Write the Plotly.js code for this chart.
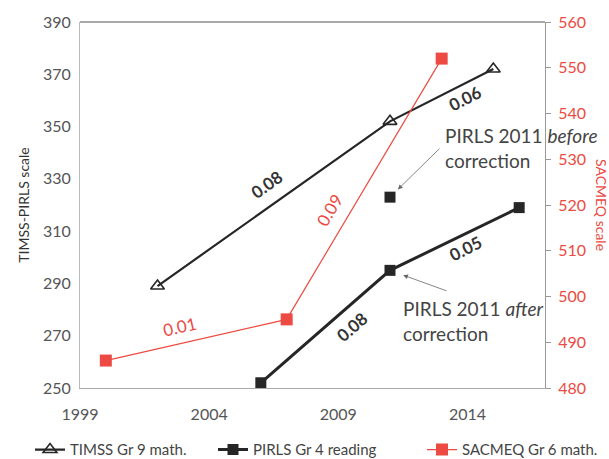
<!DOCTYPE html>
<html>
<head>
<meta charset="utf-8">
<script src="https://cdn.plot.ly/plotly-3.0.1.min.js"></script>
<style>html,body{margin:0;padding:0;background:#fff}#chart{width:609px;height:459px}</style>
</head>
<body>
<div id="chart"></div>
<script>
// ---- data ----
const timssYears = [2002, 2011, 2015];
const timssScores = [289, 352, 372];
const timssSlopes = ['0.08', '0.06'];

const pirlsYears = [2006, 2011, 2016];
const pirlsScores = [252, 295, 319];
const pirlsSlopes = ['0.08', '0.05'];

const pirlsBeforeYear = [2011];
const pirlsBeforeScore = [323];

const sacmeqYears = [2000, 2007, 2013];
const sacmeqScores = [486, 495, 552];
const sacmeqSlopes = ['0.01', '0.09'];

const xTicks = [1999, 2004, 2009, 2014];

const seriesNames = ['TIMSS Gr 9 math.', 'PIRLS Gr 4 reading', 'SACMEQ Gr 6 math.'];

// ---- styles ----
const FONT = 'Lato, "Open Sans", sans-serif';
const BLACK = '#262626';
const RED = '#ec4a42';

const traces = [
  {x: timssYears, y: timssScores, name: seriesNames[0], mode: 'lines+markers', legend: 'legend',
   line: {color: BLACK, width: 2.2},
   marker: {symbol: 'triangle-up-open', size: 12, color: BLACK, line: {width: 1.6, color: BLACK}}},
  {x: pirlsYears, y: pirlsScores, name: seriesNames[1], mode: 'lines+markers', legend: 'legend2',
   line: {color: BLACK, width: 3},
   marker: {symbol: 'square', size: 11, color: BLACK}},
  {x: pirlsBeforeYear, y: pirlsBeforeScore, mode: 'markers', showlegend: false,
   marker: {symbol: 'square', size: 11, color: BLACK}},
  {x: sacmeqYears, y: sacmeqScores, name: seriesNames[2], mode: 'lines+markers', yaxis: 'y2', legend: 'legend3',
   line: {color: RED, width: 1.2},
   marker: {symbol: 'square', size: 12, color: RED}}
];

function mid(a, i) { return (a[i] + a[i + 1]) / 2; }

// slope label style offsets (pixels) and angles
const timssStyle = [{dx: -7, dy: 19, ang: -35}, {dx: 23, dy: -3, ang: -27}];
const pirlsStyle = [{dx: 27, dy: 0, ang: -41}, {dx: 11, dy: -10, ang: -27}];
const sacmeqStyle = [{dx: -16, dy: 13, ang: -13}, {dx: -34, dy: -21, ang: -59}];

const annotations = [];
function slopeLabels(xs, ys, labels, style, color, bold, yref) {
  labels.forEach((t, i) => {
    annotations.push({
      x: mid(xs, i), y: mid(ys, i), xref: 'x', yref: yref,
      text: bold ? '<b>' + t + '</b>' : t, showarrow: false,
      xshift: style[i].dx, yshift: style[i].dy, textangle: style[i].ang,
      font: {family: FONT, size: 17, color: color}
    });
  });
}
slopeLabels(timssYears, timssScores, timssSlopes, timssStyle, '#333', true, 'y');
slopeLabels(pirlsYears, pirlsScores, pirlsSlopes, pirlsStyle, '#333', true, 'y');
slopeLabels(sacmeqYears, sacmeqScores, sacmeqSlopes, sacmeqStyle, RED, false, 'y2');

// callouts
annotations.push({
  x: pirlsBeforeYear[0], y: pirlsBeforeScore[0], xref: 'x', yref: 'y',
  text: '', showarrow: true, ax: 51, ay: -50, axref: 'pixel', ayref: 'pixel',
  arrowhead: 2, arrowsize: 1.2, arrowwidth: 0.8, arrowcolor: '#666', standoff: 11
});
annotations.push({
  x: pirlsBeforeYear[0], y: pirlsBeforeScore[0], xref: 'x', yref: 'y',
  text: 'PIRLS 2011 <i>before</i><br>correction', showarrow: false, align: 'left',
  xanchor: 'left', yanchor: 'middle', xshift: 53, yshift: 49,
  font: {family: FONT, size: 19, color: '#444'}
});
annotations.push({
  x: pirlsYears[1], y: pirlsScores[1], xref: 'x', yref: 'y',
  text: '', showarrow: true, ax: 58, ay: 21, axref: 'pixel', ayref: 'pixel',
  arrowhead: 2, arrowsize: 1.2, arrowwidth: 0.8, arrowcolor: '#666', standoff: 14
});
annotations.push({
  x: pirlsYears[1], y: pirlsScores[1], xref: 'x', yref: 'y',
  text: 'PIRLS 2011 <i>after</i><br>correction', showarrow: false, align: 'left',
  xanchor: 'left', yanchor: 'middle', xshift: 11, yshift: -51,
  font: {family: FONT, size: 19, color: '#444'}
});
// right axis title (reads top to bottom)
annotations.push({
  x: 1, y: 0.5, xref: 'paper', yref: 'paper', xanchor: 'center', yanchor: 'middle',
  xshift: 57, text: 'SACMEQ scale', textangle: 90, showarrow: false,
  font: {family: FONT, size: 14, color: RED}
});

function legendAt(px) {
  return {orientation: 'h', xref: 'container', yref: 'container',
          x: px / 609, xanchor: 'left', y: 0.02, yanchor: 'middle',
          borderwidth: 0, bgcolor: 'rgba(0,0,0,0)',
          font: {family: FONT, size: 15, color: '#444'}};
}

const layout = {
  width: 609, height: 459,
  margin: {l: 80, r: 64, t: 22, b: 71, autoexpand: false},
  paper_bgcolor: '#fff', plot_bgcolor: '#fff',
  font: {family: FONT, color: '#555'},
  showlegend: true,
  legend: legendAt(30),
  legend2: legendAt(213),
  legend3: legendAt(422),
  xaxis: {range: [1999, 2017], tickvals: xTicks, ticktext: xTicks.map(String),
          showgrid: false, zeroline: false, showline: true, linecolor: '#aaa', linewidth: 1,
          ticks: '', ticklabelstandoff: 12, tickfont: {family: FONT, size: 16, color: '#555'}},
  yaxis: {range: [250, 390], dtick: 20, tick0: 250, showgrid: false, zeroline: false,
          showline: true, linecolor: '#bbb', linewidth: 1, ticks: '', ticklabelstandoff: 5,
          tickfont: {family: FONT, size: 16, color: '#555'},
          title: {text: 'TIMSS-PIRLS scale', standoff: 10, font: {family: FONT, size: 14, color: '#333'}}},
  yaxis2: {range: [480, 560], dtick: 10, tick0: 480, overlaying: 'y', side: 'right',
           showgrid: false, zeroline: false, showline: true, linecolor: '#999', linewidth: 1,
           ticks: 'outside', ticklen: 5, tickcolor: '#999', ticklabelstandoff: 4,
           tickfont: {family: FONT, size: 16, color: RED}},
  shapes: [{type: 'line', xref: 'paper', yref: 'paper', x0: 0, x1: 1, y0: 1, y1: 1,
            line: {color: '#555', width: 1.2}}],
  annotations: annotations
};

Plotly.newPlot('chart', traces, layout, {displayModeBar: false, staticPlot: true});
</script>
</body>
</html>
